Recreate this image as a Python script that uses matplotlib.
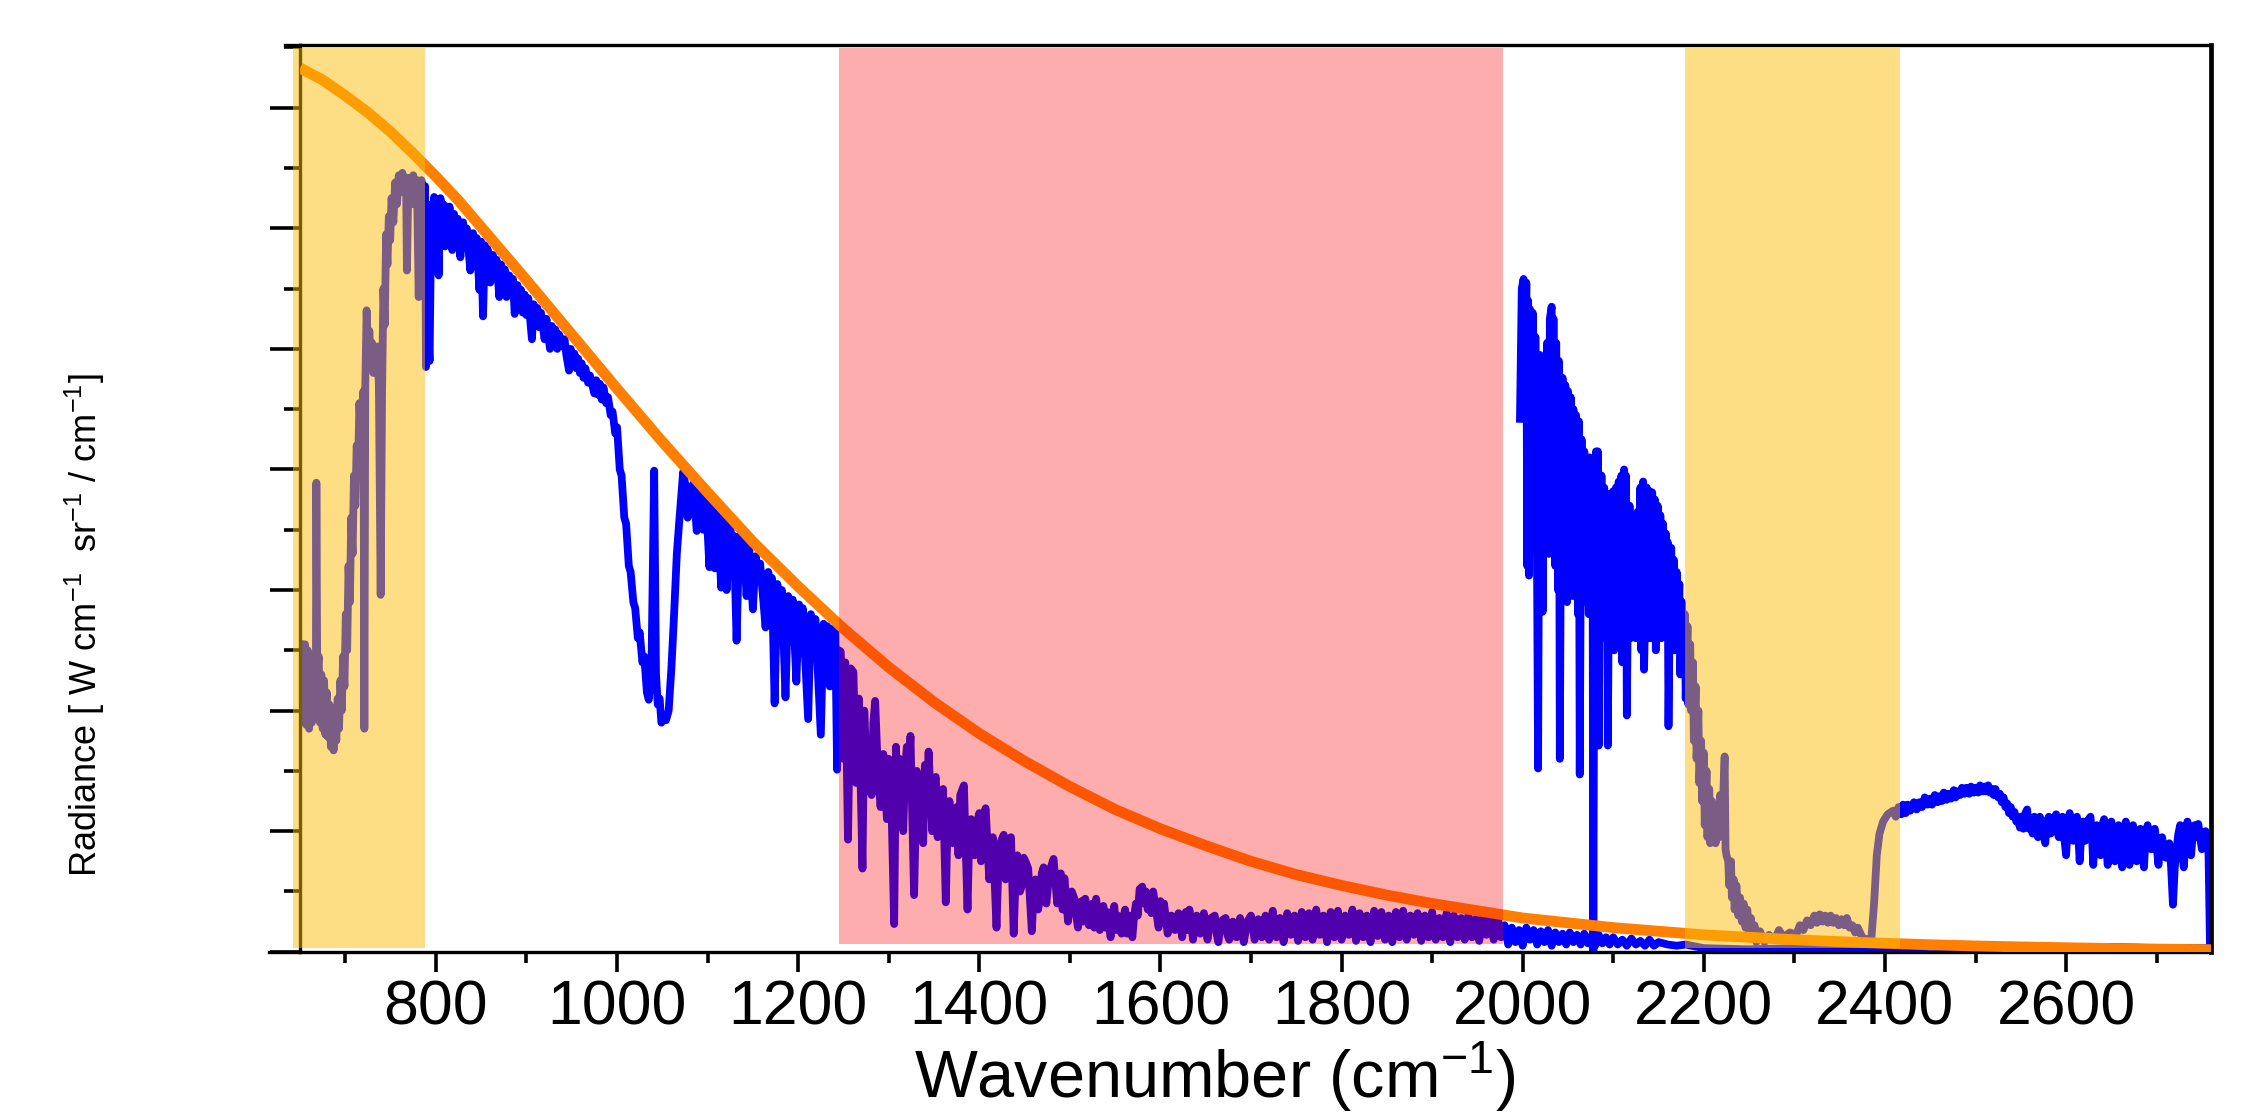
import matplotlib
matplotlib.use("Agg")
import matplotlib.pyplot as plt
from matplotlib.ticker import MultipleLocator

plt.rcParams['font.family'] = ['Liberation Sans', 'DejaVu Sans']
plt.rcParams['mathtext.fontset'] = 'custom'
plt.rcParams['mathtext.rm'] = 'Liberation Sans'
plt.rcParams['mathtext.it'] = 'Liberation Sans:italic'
plt.rcParams['mathtext.bf'] = 'Liberation Sans:bold'

# ---- data (wavenumber cm-1, radiance in tick units) ----
# lower spectrum, 650 - 2760 cm-1
main_spectrum = [
    (650, 2.55), (651, 1.90), (652.5, 2.50), (654, 1.95), (655.5, 2.55), (657, 1.88),
    (658.5, 2.50), (660, 1.85), (661.5, 2.45), (663, 1.90), (664.5, 2.35), (666, 2.00),
    (667.5, 2.40), (668, 3.89), (669, 2.25), (670.5, 2.45), (672, 1.90), (673.5, 2.30),
    (675, 1.85), (676.5, 2.25), (678, 1.80), (679.5, 2.15), (681, 1.78), (682.5, 2.05),
    (684, 1.70), (685.5, 1.95), (687, 1.67), (688.5, 2.00), (690, 1.75), (691.5, 2.10),
    (693, 1.85), (694.5, 2.25), (696, 2.00), (697.5, 2.45), (699, 2.20), (700.5, 2.80),
    (702, 2.50), (703.5, 3.20), (705, 2.90), (706.5, 3.60), (708, 3.30), (709.5, 3.95),
    (711, 3.70), (712.5, 4.20), (714, 4.00), (715.5, 4.55), (717, 4.30), (718.5, 4.50),
    (720, 4.65), (721, 1.85), (722, 4.70), (723.5, 5.32), (725, 4.90), (726.5, 5.15),
    (728, 4.85), (729.5, 5.05), (731, 4.80), (732.5, 5.00), (734, 4.85), (735.5, 5.02),
    (737, 4.70), (739, 2.96), (740.5, 4.60), (742, 5.50), (743.5, 5.20), (745, 5.95),
    (746.5, 5.70), (748, 6.10), (749.5, 5.90), (751, 6.25), (753, 6.05), (755, 6.38),
    (757, 6.20), (759, 6.44), (761, 6.30), (763, 6.46), (765, 6.30), (767, 6.42),
    (768, 5.65), (769.5, 6.35), (771, 6.42), (773, 6.20), (775, 6.44), (777, 6.25),
    (779, 6.40), (781, 5.43), (782.5, 6.30), (784, 6.40), (786, 6.25), (788, 6.35),
    (789, 4.85), (791, 5.30), (793, 4.90), (795, 6.20), (796.5, 5.90), (798, 6.26),
    (799.5, 5.95), (801, 6.24), (803, 5.61), (805, 6.25), (806.5, 5.95), (808, 6.20),
    (810, 5.85), (812, 6.18), (813.5, 5.95), (815, 6.18), (818, 5.82), (820, 6.12),
    (822, 5.90), (824, 6.08), (827, 5.76), (830, 6.05), (832, 5.85), (834, 6.00),
    (838, 5.65), (841, 5.96), (843, 5.75), (845, 5.92), (848, 5.49), (850, 5.89),
    (852, 5.27), (854, 5.86), (855.5, 5.65), (857, 5.83), (860, 5.55), (863, 5.78),
    (865, 5.60), (867, 5.74), (870, 5.43), (872, 5.70), (874, 5.52), (876, 5.66),
    (878, 5.43), (881, 5.61), (883, 5.45), (885, 5.58), (887, 5.29), (890, 5.53),
    (892, 5.38), (894, 5.49), (896, 5.30), (898, 5.45), (900, 5.28), (902, 5.42),
    (906, 5.08), (908, 5.37), (910, 5.22), (912, 5.34), (914, 5.18), (916, 5.30),
    (920, 5.08), (922, 5.25), (926, 5.00), (928, 5.19), (930, 5.05), (932, 5.16),
    (934, 5.00), (936, 5.12), (940, 5.02), (942, 5.08), (944, 4.95), (947, 4.82),
    (949, 5.00), (951, 4.88), (953, 4.96), (955, 4.84), (957, 4.92), (959, 4.80),
    (961, 4.88), (963, 4.76), (965, 4.84), (968, 4.72), (970, 4.78), (975, 4.63),
    (977, 4.74), (979, 4.62), (981, 4.71), (983, 4.58), (985, 4.68), (988, 4.55),
    (990, 4.60), (993, 4.45), (995, 4.48), (998, 4.30), (1000, 4.35), (1003, 4.00),
    (1005, 3.95), (1008, 3.60), (1010, 3.55), (1013, 3.20), (1015, 3.15), (1018, 2.90),
    (1020, 2.85), (1023, 2.60), (1025, 2.65), (1028, 2.40), (1030, 2.45), (1033, 2.15),
    (1035, 2.09), (1038, 2.35), (1041, 3.99), (1043, 2.30), (1045, 2.05), (1047, 2.10),
    (1049, 1.90), (1051, 1.95), (1054, 1.92), (1057, 2.00), (1060, 2.35), (1063, 2.80),
    (1066, 3.30), (1069, 3.60), (1073, 3.98), (1076, 3.85), (1078, 3.60), (1080, 3.80),
    (1082, 3.65), (1084, 3.88), (1088, 3.49), (1091, 3.85), (1095, 3.50), (1098, 3.78),
    (1102, 3.19), (1105, 3.72), (1108, 3.18), (1111, 3.65), (1115, 3.02), (1118, 3.60),
    (1121, 3.00), (1125, 3.55), (1127, 3.35), (1129, 3.45), (1132, 2.58), (1135, 3.45),
    (1137, 3.25), (1140, 3.40), (1143, 2.95), (1146, 3.35), (1150, 2.84), (1153, 3.28),
    (1155, 3.10), (1158, 3.22), (1164, 2.69), (1167, 3.15), (1169, 2.95), (1171, 3.10),
    (1174, 2.06), (1177, 3.05), (1179, 2.85), (1182, 3.00), (1186, 2.11), (1189, 2.95),
    (1191, 2.75), (1194, 2.92), (1198, 2.24), (1201, 2.88), (1203, 2.65), (1205, 2.85),
    (1211, 1.93), (1214, 2.80), (1216, 2.60), (1219, 2.76), (1225, 1.80), (1228, 2.72),
    (1230, 2.50), (1232, 2.70), (1235, 2.20), (1238, 2.68), (1241, 2.65), (1243, 1.51),
    (1245, 2.50), (1247, 2.49), (1250, 1.60), (1252, 2.40), (1255, 0.93), (1258, 2.35),
    (1261, 2.32), (1264, 1.40), (1267, 2.10), (1271, 0.69), (1273, 2.00), (1275, 1.60),
    (1277, 1.75), (1281, 1.30), (1283, 1.90), (1285, 2.08), (1288, 1.50), (1291, 1.20),
    (1294, 1.64), (1296, 1.35), (1298, 1.10), (1300, 1.60), (1302, 1.55), (1306, 0.23),
    (1308, 1.70), (1310, 1.30), (1312, 1.60), (1316, 1.00), (1318, 1.50), (1320, 1.70),
    (1322, 1.40), (1324, 1.79), (1328, 0.47), (1331, 1.50), (1333, 1.10), (1335, 1.30),
    (1338, 0.90), (1340, 1.55), (1342, 1.25), (1344, 1.66), (1348, 1.00), (1350, 1.40),
    (1352, 1.45), (1354, 0.95), (1356, 1.20), (1360, 1.35), (1363, 0.41), (1365, 1.10),
    (1367, 1.25), (1371, 0.90), (1373, 1.15), (1375, 1.20), (1377, 0.80), (1379, 1.30),
    (1383, 1.38), (1387, 0.35), (1389, 1.00), (1391, 1.10), (1395, 0.80), (1397, 1.05),
    (1400, 1.15), (1402, 0.75), (1404, 1.10), (1407, 1.19), (1411, 0.60), (1413, 0.90),
    (1415, 0.95), (1419, 0.20), (1421, 0.70), (1423, 0.90), (1427, 0.97), (1429, 0.60),
    (1431, 0.70), (1433, 0.90), (1435, 0.95), (1438, 0.15), (1440, 0.60), (1442, 0.80),
    (1445, 0.50), (1447, 0.55), (1449, 0.78), (1451, 0.75), (1454, 0.69), (1458, 0.17),
    (1460, 0.50), (1462, 0.60), (1465, 0.35), (1467, 0.45), (1469, 0.65), (1471, 0.70),
    (1474, 0.40), (1476, 0.55), (1479, 0.70), (1482, 0.77), (1486, 0.40), (1488, 0.55),
    (1490, 0.65), (1492, 0.35), (1494, 0.61), (1498, 0.25), (1500, 0.45), (1502, 0.50),
    (1505, 0.44), (1507, 0.30), (1509, 0.20), (1511, 0.38), (1513, 0.42), (1515, 0.25),
    (1517, 0.44), (1521, 0.22), (1523, 0.35), (1525, 0.40), (1527, 0.20), (1529, 0.44),
    (1533, 0.18), (1535, 0.30), (1537, 0.38), (1539, 0.20), (1541, 0.33), (1545, 0.12),
    (1547, 0.30), (1549, 0.38), (1551, 0.18), (1553, 0.30), (1557, 0.15), (1559, 0.28),
    (1561, 0.35), (1563, 0.15), (1565, 0.30), (1569, 0.12), (1571, 0.30), (1573, 0.40),
    (1575, 0.30), (1577, 0.52), (1580, 0.54), (1582, 0.40), (1584, 0.50), (1586, 0.35),
    (1588, 0.48), (1590, 0.32), (1592, 0.50), (1596, 0.30), (1598, 0.20), (1600, 0.42),
    (1602, 0.25), (1604, 0.40), (1608, 0.15), (1610, 0.25), (1612, 0.30), (1616, 0.18),
    (1618, 0.28), (1620, 0.32), (1624, 0.12), (1626, 0.25), (1628, 0.33), (1630, 0.18),
    (1632, 0.35), (1636, 0.10), (1638, 0.25), (1640, 0.30), (1644, 0.15), (1646, 0.25),
    (1648, 0.32), (1652, 0.10), (1654, 0.22), (1656, 0.28), (1660, 0.30), (1662, 0.15),
    (1664, 0.08), (1666, 0.20), (1668, 0.26), (1672, 0.28), (1674, 0.14), (1676, 0.10),
    (1680, 0.25), (1684, 0.12), (1688, 0.28), (1692, 0.08), (1696, 0.25), (1700, 0.30),
    (1704, 0.10), (1708, 0.27), (1712, 0.12), (1716, 0.30), (1720, 0.10), (1724, 0.34),
    (1728, 0.12), (1732, 0.28), (1736, 0.08), (1740, 0.32), (1744, 0.14), (1748, 0.30),
    (1752, 0.09), (1756, 0.33), (1760, 0.12), (1764, 0.32), (1768, 0.10), (1772, 0.35),
    (1776, 0.14), (1780, 0.30), (1784, 0.08), (1788, 0.33), (1792, 0.12), (1796, 0.34),
    (1800, 0.10), (1804, 0.30), (1808, 0.14), (1812, 0.35), (1816, 0.09), (1820, 0.32),
    (1824, 0.12), (1828, 0.30), (1832, 0.08), (1836, 0.34), (1840, 0.13), (1844, 0.33),
    (1848, 0.10), (1852, 0.30), (1856, 0.08), (1860, 0.33), (1864, 0.12), (1868, 0.34),
    (1872, 0.10), (1876, 0.30), (1880, 0.14), (1884, 0.32), (1888, 0.09), (1892, 0.30),
    (1896, 0.12), (1900, 0.33), (1904, 0.10), (1908, 0.28), (1912, 0.12), (1916, 0.32),
    (1920, 0.08), (1924, 0.30), (1928, 0.12), (1932, 0.28), (1936, 0.10), (1940, 0.30),
    (1944, 0.12), (1948, 0.27), (1952, 0.09), (1956, 0.30), (1960, 0.14), (1964, 0.28),
    (1968, 0.10), (1972, 0.30), (1976, 0.12), (1980, 0.22), (1984, 0.06), (1988, 0.20),
    (1992, 0.08), (1996, 0.18), (2000, 0.05), (2004, 0.20), (2008, 0.10), (2012, 0.18),
    (2016, 0.06), (2020, 0.17), (2024, 0.08), (2028, 0.18), (2032, 0.05), (2036, 0.16),
    (2040, 0.08), (2044, 0.15), (2048, 0.06), (2052, 0.16), (2056, 0.08), (2060, 0.14),
    (2064, 0.06), (2068, 0.15), (2072, 0.07), (2076, 0.13), (2080, 0.05), (2084, 0.14),
    (2088, 0.07), (2092, 0.12), (2096, 0.06), (2100, 0.12), (2105, 0.06), (2110, 0.10),
    (2115, 0.05), (2120, 0.11), (2125, 0.06), (2130, 0.09), (2135, 0.05), (2140, 0.10),
    (2145, 0.05), (2150, 0.08), (2160, 0.06), (2170, 0.05), (2180, 0.06),
    (2200, 0.03), (2250, 0.02), (2300, 0.03), (2350, 0.02), (2400, 0.03), (2450, 0.04),
    (2500, 0.03), (2550, 0.04), (2600, 0.03), (2650, 0.04), (2700, 0.03), (2758, 0.03),
]

# upper spectrum, starts near 2000 cm-1
upper_spectrum = [
    (1997, 4.42), (1999, 5.50), (2001, 5.58), (2003, 4.60), (2004, 5.55), (2005, 3.20),
    (2006, 5.40), (2007, 3.12), (2008, 5.33), (2010, 4.30), (2011, 5.30), (2013, 3.40),
    (2014, 5.10), (2016, 3.00), (2017, 1.52), (2018, 3.60), (2019, 4.95), (2021, 4.91),
    (2022, 2.82), (2024, 4.70), (2026, 3.40), (2027, 5.05), (2029, 3.30), (2030, 5.25),
    (2032, 5.35), (2033, 3.96), (2034, 5.25), (2036, 3.20), (2037, 5.05), (2039, 3.00),
    (2040, 4.90), (2041, 1.60), (2042, 3.20), (2044, 4.76), (2046, 3.00), (2047, 4.70),
    (2049, 2.90), (2050, 4.65), (2052, 3.10), (2053, 4.60), (2055, 2.95), (2056, 4.50),
    (2058, 3.20), (2059, 4.45), (2061, 2.80), (2062, 4.40), (2063, 1.47), (2064, 3.00),
    (2065, 4.25), (2067, 2.90), (2068, 4.15), (2070, 3.10), (2071, 4.10), (2073, 2.80),
    (2074, 4.10), (2076, 3.00), (2077, 4.05), (2078, 0.00), (2079, 2.90), (2081, 4.15),
    (2082, 3.20), (2083, 4.15), (2084, 1.71), (2085, 3.00), (2087, 3.95), (2088, 2.60),
    (2090, 3.85), (2091, 3.00), (2093, 3.80), (2094, 1.71), (2095, 2.80), (2097, 3.80),
    (2098, 2.90), (2100, 3.82), (2101, 2.50), (2103, 3.85), (2104, 2.70), (2106, 3.90),
    (2107, 2.90), (2109, 3.95), (2110, 2.40), (2112, 4.00), (2113, 2.90), (2114, 3.95),
    (2115, 1.96), (2116, 2.80), (2118, 3.70), (2119, 2.60), (2121, 3.55), (2122, 2.90),
    (2124, 3.50), (2125, 2.60), (2127, 3.65), (2128, 2.80), (2130, 3.85), (2131, 2.50),
    (2133, 3.90), (2134, 2.34), (2135, 2.70), (2137, 3.85), (2138, 2.80), (2140, 3.82),
    (2141, 2.60), (2143, 3.81), (2144, 2.90), (2146, 3.75), (2147, 2.50), (2149, 3.70),
    (2150, 2.80), (2152, 3.62), (2153, 2.60), (2155, 3.55), (2156, 2.90), (2158, 3.47),
    (2159, 2.70), (2160, 3.40), (2161, 1.87), (2162, 2.60), (2164, 3.35), (2165, 2.70),
    (2167, 3.25), (2168, 2.50), (2170, 3.15), (2171, 2.60), (2173, 3.05), (2174, 2.30),
    (2176, 2.90), (2177, 2.40), (2179, 2.80), (2180, 2.10), (2182, 2.70), (2183, 2.05),
    (2185, 2.55), (2186, 2.00), (2188, 2.40), (2189, 1.75), (2191, 2.20), (2192, 1.60),
    (2194, 2.00), (2195, 1.40), (2197, 1.75), (2198, 1.25), (2200, 1.65), (2201, 1.05),
    (2203, 1.50), (2204, 0.95), (2206, 1.35), (2207, 0.90), (2209, 1.25), (2210, 0.95),
    (2212, 1.20), (2213, 0.90), (2215, 1.10), (2217, 0.95), (2218, 1.30), (2220, 1.00),
    (2221, 1.20), (2223, 1.62), (2224, 0.85), (2225, 0.80), (2227, 0.75), (2228, 0.55),
    (2230, 0.75), (2231, 0.45), (2233, 0.60), (2234, 0.35), (2236, 0.55), (2238, 0.30),
    (2240, 0.45), (2242, 0.25), (2244, 0.40), (2246, 0.20), (2248, 0.35), (2250, 0.15),
    (2252, 0.28), (2254, 0.12), (2256, 0.22), (2258, 0.08), (2262, 0.17), (2267, 0.08),
    (2272, 0.14), (2278, 0.10), (2283, 0.18), (2288, 0.12), (2295, 0.16), (2302, 0.14),
    (2306, 0.22), (2310, 0.18), (2314, 0.26), (2318, 0.22), (2322, 0.30), (2325, 0.24),
    (2328, 0.31), (2331, 0.25), (2334, 0.30), (2337, 0.24), (2340, 0.30), (2343, 0.24),
    (2346, 0.28), (2349, 0.22), (2352, 0.27), (2355, 0.22), (2358, 0.28), (2361, 0.20),
    (2364, 0.22), (2367, 0.16), (2370, 0.20), (2375, 0.12), (2380, 0.10), (2385, 0.11),
    (2388, 0.40), (2391, 0.80), (2394, 0.98), (2398, 1.08), (2403, 1.14), (2409, 1.17),
    (2412, 1.12), (2415, 1.20), (2418, 1.14), (2420, 1.22), (2423, 1.15), (2425, 1.22),
    (2428, 1.17), (2432, 1.24), (2435, 1.18), (2438, 1.24), (2441, 1.20), (2444, 1.28),
    (2447, 1.22), (2450, 1.27), (2452, 1.22), (2455, 1.30), (2458, 1.24), (2460, 1.29),
    (2463, 1.25), (2465, 1.32), (2468, 1.26), (2470, 1.31), (2473, 1.27), (2476, 1.34),
    (2478, 1.28), (2480, 1.33), (2483, 1.30), (2485, 1.36), (2488, 1.31), (2490, 1.36),
    (2493, 1.31), (2495, 1.37), (2498, 1.32), (2500, 1.36), (2503, 1.32), (2505, 1.38),
    (2508, 1.33), (2510, 1.37), (2512, 1.33), (2514, 1.38), (2516, 1.32), (2518, 1.35),
    (2520, 1.30), (2522, 1.35), (2525, 1.28), (2527, 1.31), (2529, 1.24), (2531, 1.28),
    (2533, 1.20), (2535, 1.23), (2537, 1.15), (2539, 1.20), (2541, 1.12), (2543, 1.16),
    (2545, 1.08), (2547, 1.10), (2549, 1.03), (2550, 1.12), (2553, 1.02), (2555, 1.15),
    (2557, 1.18), (2559, 1.02), (2561, 1.08), (2563, 0.98), (2565, 1.12), (2567, 1.00),
    (2569, 0.95), (2571, 1.12), (2573, 1.08), (2575, 0.98), (2577, 0.90), (2579, 1.08),
    (2581, 1.12), (2583, 0.98), (2585, 1.02), (2587, 1.10), (2589, 1.14), (2591, 0.98),
    (2592, 0.95), (2594, 1.10), (2596, 1.12), (2598, 0.95), (2600, 0.80), (2602, 1.05),
    (2604, 1.15), (2606, 1.00), (2608, 0.92), (2610, 1.08), (2612, 1.12), (2614, 0.90),
    (2615, 0.75), (2617, 1.00), (2619, 1.08), (2621, 0.92), (2623, 0.95), (2625, 1.10),
    (2627, 1.12), (2629, 0.90), (2630, 0.72), (2632, 1.00), (2634, 1.05), (2636, 0.90),
    (2638, 0.80), (2640, 1.05), (2642, 1.10), (2644, 0.90), (2646, 0.72), (2648, 1.00),
    (2650, 1.08), (2652, 0.90), (2654, 0.75), (2656, 1.00), (2658, 1.05), (2660, 0.88),
    (2662, 0.70), (2664, 1.00), (2666, 1.08), (2668, 0.90), (2670, 0.72), (2672, 0.98),
    (2674, 1.05), (2676, 0.90), (2678, 0.75), (2680, 0.98), (2682, 1.02), (2684, 0.88),
    (2686, 0.70), (2688, 0.98), (2690, 1.05), (2692, 0.92), (2694, 0.85), (2696, 0.98),
    (2698, 1.02), (2700, 0.88), (2702, 0.72), (2704, 0.92), (2706, 0.95), (2708, 0.85),
    (2710, 0.78), (2712, 0.88), (2714, 0.90), (2716, 0.70), (2718, 0.39), (2720, 0.70),
    (2722, 0.85), (2724, 0.98), (2726, 1.05), (2728, 0.85), (2730, 0.70), (2732, 0.95),
    (2734, 1.08), (2736, 0.92), (2738, 0.80), (2740, 0.98), (2742, 1.05), (2744, 0.95),
    (2746, 1.06), (2748, 0.95), (2750, 0.85), (2752, 0.95), (2754, 1.00), (2756, 0.92),
    (2757, 0.95), (2759, 0.00),
]

# smooth blackbody-like reference curve (orange)
planck_wn = [650, 675, 700, 725, 750, 775, 800, 825, 850, 900, 950, 1000, 1050, 1100,
             1150, 1200, 1250, 1300, 1350, 1400, 1450, 1500, 1550, 1600, 1650, 1700,
             1750, 1800, 1850, 1900, 1950, 2000, 2050, 2100, 2150, 2200, 2250, 2300,
             2350, 2400, 2450, 2500, 2550, 2600, 2650, 2700, 2760]
planck_rad = [7.33, 7.23, 7.10, 6.96, 6.80, 6.62, 6.43, 6.23, 6.01, 5.57, 5.12, 4.67,
              4.23, 3.81, 3.40, 3.03, 2.68, 2.36, 2.07, 1.81, 1.58, 1.37, 1.18, 1.02,
              0.88, 0.75, 0.64, 0.55, 0.47, 0.40, 0.34, 0.28, 0.24, 0.20, 0.17, 0.14,
              0.12, 0.10, 0.083, 0.070, 0.058, 0.048, 0.040, 0.033, 0.027, 0.022, 0.017]

# shaded spectral windows
yellow_bands = [(642, 788), (2179, 2417)]
red_bands = [(1245, 1978)]

x_major = [800, 1000, 1200, 1400, 1600, 1800, 2000, 2200, 2400, 2600]

main_wn, main_rad = zip(*main_spectrum)
upper_wn, upper_rad = zip(*upper_spectrum)

fig = plt.figure(figsize=(22.41, 11.18), dpi=100)
ax = fig.add_axes([0.1339, 0.1487, 0.8527, 0.8110])

blue = '#0000FF'
ax.plot(main_wn, main_rad, color=blue, lw=5.6, zorder=2)
ax.plot(upper_wn, upper_rad, color=blue, lw=5.6, zorder=2)
ax.plot(planck_wn, planck_rad, color='#FF7F00', lw=7.8, zorder=3,
        solid_capstyle='butt')

for x0, x1 in yellow_bands:
    ax.axvspan(x0, x1, ymin=0.004, ymax=0.997, color='#FBBD06', alpha=0.49,
               lw=0, zorder=4, clip_on=False)
for x0, x1 in red_bands:
    ax.axvspan(x0, x1, ymin=0.008, ymax=0.997, color='#FA0000', alpha=0.32,
               lw=0, zorder=4)

ax.set_xlim(650, 2760)
ax.set_ylim(0, 7.52)
ax.set_xticks(x_major)
ax.xaxis.set_minor_locator(MultipleLocator(100))
ax.yaxis.set_major_locator(MultipleLocator(1))
ax.yaxis.set_minor_locator(MultipleLocator(0.5))

ax.tick_params(axis='x', which='major', direction='out', length=14.5, width=2.6,
               labelsize=45, pad=5)
ax.tick_params(axis='x', which='minor', direction='out', length=8, width=2.6)
ax.tick_params(axis='y', which='major', direction='out', length=21.5, width=2.6,
               labelleft=False)
ax.tick_params(axis='y', which='minor', direction='out', length=11.5, width=2.6)

for side in ['top', 'bottom', 'left', 'right']:
    ax.spines[side].set_linewidth(2.4)
ax.spines['right'].set_linewidth(3.4)

# frame lines run a little past the left edge in the original
ax.plot([-0.008, 0], [1, 1], transform=ax.transAxes, color='black', lw=2.4,
        clip_on=False, zorder=5)
ax.plot([-0.016, 0], [0, 0], transform=ax.transAxes, color='black', lw=2.4,
        clip_on=False, zorder=5)

fig.text(0.038, 0.441, 'Radiance [ W cm$^{-1}$  sr$^{-1}$ / cm$^{-1}$]',
         rotation=90, ha='center', va='center', fontsize=26)
fig.text(0.542, 0.004, 'Wavenumber (cm$^{-1}$)', ha='center', va='bottom',
         fontsize=48)

fig.savefig('out.png', dpi=100)
